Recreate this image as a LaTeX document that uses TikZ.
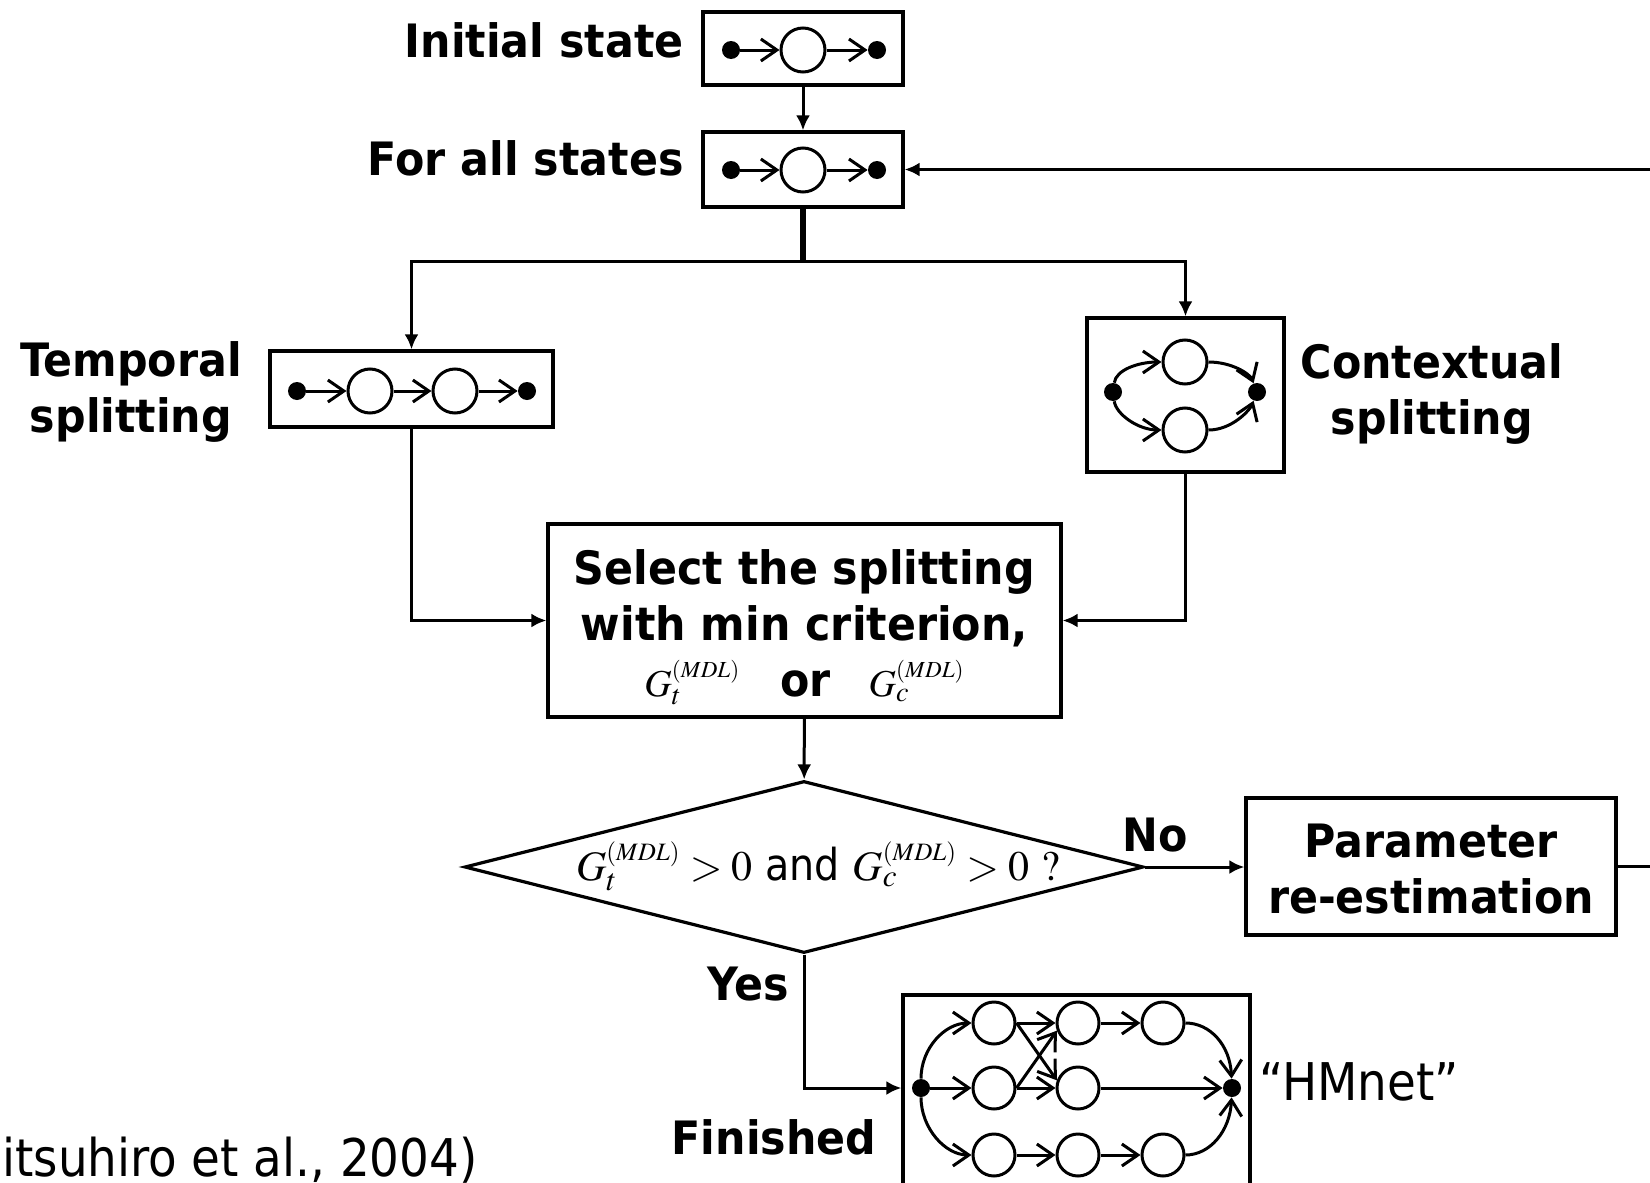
\documentclass[tikz,border=0pt]{standalone}
\usepackage{mathptmx}
\usepackage[no-math]{fontspec}
\newfontfamily\lblfont[FakeStretch=0.93]{DejaVu Sans}
\newfontfamily\regfont{DejaVu Sans Condensed}
\usetikzlibrary{arrows.meta,shapes.geometric}
% criterion symbol, superscript at a given size
\newcommand\crit[2]{G_{#1}^{\mbox{\fontsize{#2}{#2}\selectfont$(MDL)$}}}

\begin{document}
\begin{tikzpicture}[x=0.5pt, y=-0.5pt, >={Latex[length=7.5pt,width=7pt]},
    box/.style={draw, line width=1.6pt, inner sep=0pt},
    link/.style={line width=1.5pt},
    lbl/.style={font=\lblfont\bfseries\fontsize{23}{28}\selectfont, inner sep=0pt, align=center},
    txt/.style={font=\regfont\fontsize{26}{30}\selectfont, inner sep=0pt},
    st/.style={circle, draw, line width=1.5pt, minimum size=22pt, inner sep=0pt},
    dot/.style={circle, fill, minimum size=9pt, inner sep=0pt},
    hop/.style={line width=1.5pt, -{Straight Barb[length=8pt,width=11pt]}}]

\useasboundingbox (0,0) rectangle (1650,1183);
\clip (0,0) rectangle (1650,1183);

% flow boxes
\node[box, minimum width=100pt, minimum height=36.5pt] (init) at (803,48.5) {};
\node[box, minimum width=100pt, minimum height=37.5pt] (forall) at (803,169.5) {};
\node[box, minimum width=141.5pt, minimum height=38pt] (temporal) at (411.5,389) {};
\node[box, minimum width=98.5pt, minimum height=77pt] (contextual) at (1185.5,395) {};
\node[box, minimum width=256.5pt, minimum height=96.5pt] (select) at (804.5,620.5) {};
\node[box, diamond, minimum width=339.5pt, minimum height=86pt] (decide) at (804,867) {};
\node[box, minimum width=185pt, minimum height=68.5pt] (param) at (1431,866.5) {};
\node[box, minimum width=173.5pt, minimum height=102.5pt] (hmnet) at (1076.5,1097.5) {};

% texts
\node[lbl, anchor=north] (seltxt) at (804.5,549)
    {Select the splitting\\with min criterion,\\
     {\fontsize{19}{19}\selectfont$\crit{t}{11.5}$}\hspace{20pt}or\hspace{19pt}%
     {\fontsize{19}{19}\selectfont$\crit{c}{11.5}$}};
\node[txt, font=\regfont\fontsize{22}{24}\selectfont] (cond) at (818,866)
    {{\fontsize{21}{21}\selectfont$\crit{t}{12.5} > 0$} and
     {\fontsize{21}{21}\selectfont$\crit{c}{12.5} > 0\ ?$}};
\node[lbl, anchor=north] (paramtxt) at (1431,824) {Parameter\\re-estimation};
\node[lbl, anchor=base east] (initlbl) at (684,57) {Initial state};
\node[lbl, anchor=base east] (foralllbl) at (684,175) {For all states};
\node[lbl, anchor=north] (templbl) at (131,341) {Temporal\\splitting};
\node[lbl, anchor=north] (ctxlbl) at (1432,343) {Contextual\\splitting};
\node[lbl, anchor=base] (nolbl) at (1155,851) {No};
\node[lbl, anchor=base east] (yeslbl) at (789,1000) {Yes};
\node[lbl, anchor=base] (finlbl) at (774,1154) {Finished};
\node[txt, anchor=base west] (hmlbl) at (1259,1100) {“HMnet”};
\node[txt, anchor=base west] (cite) at (2,1176) {itsuhiro et al., 2004)};

% small state graphs
\node[dot] (i0) at (731,50) {}; \node[st] (i1) at (803,50) {}; \node[dot] (i2) at (877,50) {};
\node[dot] (f0) at (731,170) {}; \node[st] (f1) at (803,170) {}; \node[dot] (f2) at (877,170) {};
\node[dot] (t0) at (297,391) {}; \node[st] (t1) at (370,391) {};
\node[st] (t2) at (455,391) {}; \node[dot] (t3) at (527,391) {};
\foreach \a/\b in {i0/i1,i1/i2,f0/f1,f1/f2,t0/t1,t1/t2,t2/t3}
    \draw[hop] (\a) -- (\b);

\node[dot] (c0) at (1113,392) {}; \node[dot] (c1) at (1257,392) {};
\node[st] (cu) at (1185,362) {}; \node[st] (cd) at (1185,430) {};
\draw[hop] (c0) .. controls (1116,370) and (1138,362) .. (cu.west);
\draw[hop] (c0) .. controls (1116,414) and (1138,430) .. (cd.west);
\draw[hop] (cu.east) .. controls (1232,362) and (1250,374) .. (c1);
\draw[hop] (cd.east) .. controls (1232,430) and (1250,410) .. (c1);

% network
\node[dot] (h0) at (921,1088) {}; \node[dot] (h9) at (1232,1088) {};
\foreach \n/\x/\y in {h11/994/1023, h12/1078/1023, h13/1163/1023,
                      h21/994/1088, h22/1078/1088,
                      h31/994/1155, h32/1078/1155, h33/1163/1155}
    \node[st, minimum size=21pt] (\n) at (\x,\y) {};
\foreach \a/\b in {h11/h12,h12/h13,h21/h22,h31/h32,h32/h33,h0/h21,h22/h9}
    \draw[hop] (\a) -- (\b);
\draw[hop] (h11.east) -- (h22.160);
\draw[hop] (h21.east) -- (h12.200);
\draw[hop] (h0) .. controls (921,1048) and (945,1023) .. (h11.west);
\draw[hop] (h0) .. controls (921,1128) and (945,1155) .. (h31.west);
\draw[hop] (h13.east) .. controls (1210,1023) and (1230,1045) .. (h9);
\draw[hop] (h33.east) .. controls (1210,1155) and (1230,1131) .. (h9);

% connectors
\coordinate (fork) at (803,261);
\coordinate (back) at (1700,868);
\draw[link,->] (init) -- (forall);
\draw[line width=2.6pt] (forall) -- (fork);
\draw[link,->] (fork) -| (temporal);
\draw[link,->] (fork) -| (contextual);
\draw[link,->] (temporal) |- (select);
\draw[link,->] (contextual) |- (select);
\draw[link,->] (select) -- (decide);
\draw[link,->] (decide.east) -- (param.west |- decide.east);
\draw[link,->] (decide.south) |- (hmnet.west |- h0);
\draw[link,->] (param.east) -- (param.east -| back) |- (forall.east);
\end{tikzpicture}
\end{document}
